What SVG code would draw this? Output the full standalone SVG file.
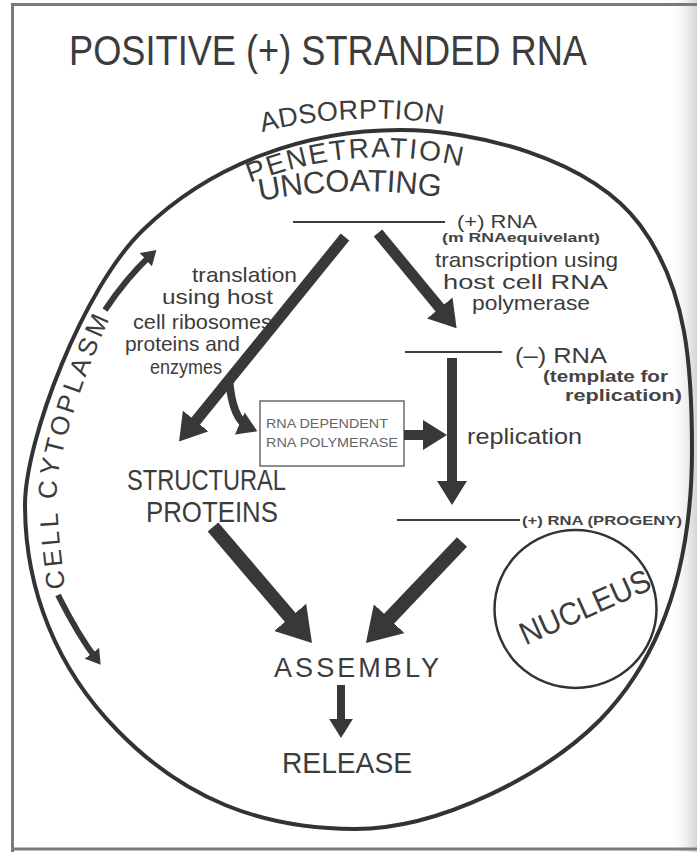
<svg xmlns="http://www.w3.org/2000/svg" width="697" height="852" viewBox="0 0 697 852">
<defs>
<linearGradient id="shade" x1="0" y1="0" x2="1" y2="0">
<stop offset="0" stop-color="#ffffff" stop-opacity="0"/>
<stop offset="1" stop-color="#d4d4d4" stop-opacity="1"/>
</linearGradient>
<marker id="ah" viewBox="0 0 8 10" refX="4.67" refY="5" markerWidth="2.4" markerHeight="3" orient="auto" markerUnits="strokeWidth">
<path d="M0,0 L8,5 L0,10 z" fill="#383838"/>
</marker>
<path id="pAds" d="M262,132 Q352,110 442,124"/>
<path id="pPen" d="M250,183 Q360,140 472,169"/>
<path id="pUnc" d="M260,201 Q352,183 445,198"/>
<path id="pCyt" d="M66,596 C62,560 56,520 57,480 C65,430 88,365 110,318"/>
</defs>
<style>
.t{font-family:"Liberation Sans","DejaVu Sans",Arial,sans-serif;fill:#3c3c3c}
.small{font-family:"Liberation Sans","DejaVu Sans",Arial,sans-serif;fill:#444;font-weight:bold}
.box{font-family:"Liberation Sans","DejaVu Sans",Arial,sans-serif;fill:#666}
.rule{stroke:#3c3c3c;stroke-width:2;fill:none}
.arw{stroke:#383838;fill:none;marker-end:url(#ah);stroke-linecap:butt}
.mem{stroke:#333;stroke-width:4;fill:none}
</style>
<rect x="0" y="0" width="697" height="852" fill="#ffffff"/>
<g id="frame">
<rect x="668" y="0" width="29" height="852" fill="url(#shade)"/>
<path d="M12.5,852 L12.5,4.5 L697,4.5" fill="none" stroke="#7a7a7a" stroke-width="3"/>
<path d="M12.5,849 L697,849" fill="none" stroke="#7a7a7a" stroke-width="3"/>
</g>
<g id="title">
<text class="t" x="69" y="65" font-size="43" textLength="518" lengthAdjust="spacingAndGlyphs">POSITIVE (+) STRANDED RNA</text>
</g>
<g id="cell-membrane">
<path class="mem" d="M25,505 C25,440 83,288 143,230 C211,164 305,130 400,130 C475,130 590,158 640,225 C688,289 692,370 692,450 C692,550 670,648 600,720 C545,775 440,829 355,829 C260,829 183,798 117,730 C57,669 25,590 25,505 Z"/>
</g>
<g id="entry">
<text class="t" font-size="27" letter-spacing="0.4"><textPath href="#pAds">ADSORPTION</textPath></text>
<text class="t" font-size="28" letter-spacing="1.8"><textPath href="#pPen">PENETRATION</textPath></text>
<text class="t" font-size="31" letter-spacing="-0.3"><textPath href="#pUnc">UNCOATING</textPath></text>
</g>
<g id="plus-rna">
<line class="rule" x1="293" y1="222" x2="445" y2="222"/>
<text class="t" x="457" y="228" font-size="19" textLength="80" lengthAdjust="spacingAndGlyphs">(+) RNA</text>
<text class="small" x="442" y="242" font-size="12.5" textLength="158" lengthAdjust="spacingAndGlyphs">(m RNAequivelant)</text>
</g>
<g id="translation-label">
<text class="t" x="192" y="282" font-size="21" textLength="105" lengthAdjust="spacingAndGlyphs">translation</text>
<text class="t" x="162" y="304" font-size="21" textLength="111" lengthAdjust="spacingAndGlyphs">using host</text>
<text class="t" x="133" y="329" font-size="21" textLength="139" lengthAdjust="spacingAndGlyphs">cell ribosomes</text>
<text class="t" x="125" y="351" font-size="21" textLength="115" lengthAdjust="spacingAndGlyphs">proteins and</text>
<text class="t" x="150" y="374" font-size="21" textLength="72" lengthAdjust="spacingAndGlyphs">enzymes</text>
</g>
<g id="transcription-label">
<text class="t" x="435" y="267" font-size="21" textLength="183" lengthAdjust="spacingAndGlyphs">transcription using</text>
<text class="t" x="443" y="289" font-size="21" textLength="165" lengthAdjust="spacingAndGlyphs">host cell RNA</text>
<text class="t" x="472" y="310" font-size="21" textLength="118" lengthAdjust="spacingAndGlyphs">polymerase</text>
</g>
<g id="minus-rna">
<line class="rule" x1="405" y1="352" x2="502" y2="352"/>
<text class="t" x="515" y="363" font-size="22" textLength="92" lengthAdjust="spacingAndGlyphs">(–) RNA</text>
<text class="small" x="543" y="382" font-size="16.5" textLength="125" lengthAdjust="spacingAndGlyphs">(template for</text>
<text class="small" x="565" y="401" font-size="16.5" textLength="117" lengthAdjust="spacingAndGlyphs">replication)</text>
</g>
<g id="polymerase-box">
<rect x="260" y="401" width="144" height="65" fill="#fff" stroke="#6a6a6a" stroke-width="1.5"/>
<text class="box" x="266" y="428" font-size="13.5" textLength="122" lengthAdjust="spacingAndGlyphs">RNA DEPENDENT</text>
<text class="box" x="266" y="447" font-size="13.5" textLength="132" lengthAdjust="spacingAndGlyphs">RNA POLYMERASE</text>
</g>
<g id="replication-label">
<text class="t" x="467" y="444" font-size="22" textLength="115" lengthAdjust="spacingAndGlyphs">replication</text>
</g>
<g id="progeny-rna">
<line class="rule" x1="397" y1="520" x2="520" y2="520"/>
<text class="small" x="522" y="525" font-size="12.5" textLength="160" lengthAdjust="spacingAndGlyphs">(+) RNA (PROGENY)</text>
</g>
<g id="structural-proteins">
<text class="t" x="127" y="490" font-size="29" textLength="159" lengthAdjust="spacingAndGlyphs">STRUCTURAL</text>
<text class="t" x="146" y="522" font-size="29" textLength="132" lengthAdjust="spacingAndGlyphs">PROTEINS</text>
</g>
<g id="assembly">
<text class="t" x="274" y="677" font-size="27" textLength="165" lengthAdjust="spacing">ASSEMBLY</text>
</g>
<g id="release">
<text class="t" x="282" y="773" font-size="29" textLength="130" lengthAdjust="spacingAndGlyphs">RELEASE</text>
</g>
<g id="nucleus">
<ellipse cx="575.5" cy="609" rx="81" ry="79" fill="none" stroke="#333" stroke-width="2.5"/>
<text class="t" x="585" y="618" font-size="32" text-anchor="middle" textLength="140" lengthAdjust="spacingAndGlyphs" transform="rotate(-24 585 607)">NUCLEUS</text>
</g>
<g id="cytoplasm-label">
<text class="t" font-size="26" letter-spacing="3.6"><textPath href="#pCyt" startOffset="8">CELL CYTOPLASM</textPath></text>
</g>
<g id="connectors">
<path class="arw" stroke-width="11" d="M345,237 L186,433"/>
<path class="arw" stroke-width="11" d="M378,233 L449.6,319.8"/>
<path class="arw" stroke-width="8" d="M229,378 Q232,420 250,428"/>
<path class="arw" stroke-width="10" d="M404,435 L437,435"/>
<path class="arw" stroke-width="10" d="M452,358 L452,495"/>
<path class="arw" stroke-width="14" d="M213,527 L302.9,632.3"/>
<path class="arw" stroke-width="14" d="M462,542 L375.6,632.8"/>
<path class="arw" stroke-width="8" d="M341,685 L341,730"/>
<path class="arw" stroke-width="6" d="M105,310 Q127,277 152,254"/>
<path class="arw" stroke-width="6" d="M58,595 Q78,635 97,660"/>
</g>
</svg>
